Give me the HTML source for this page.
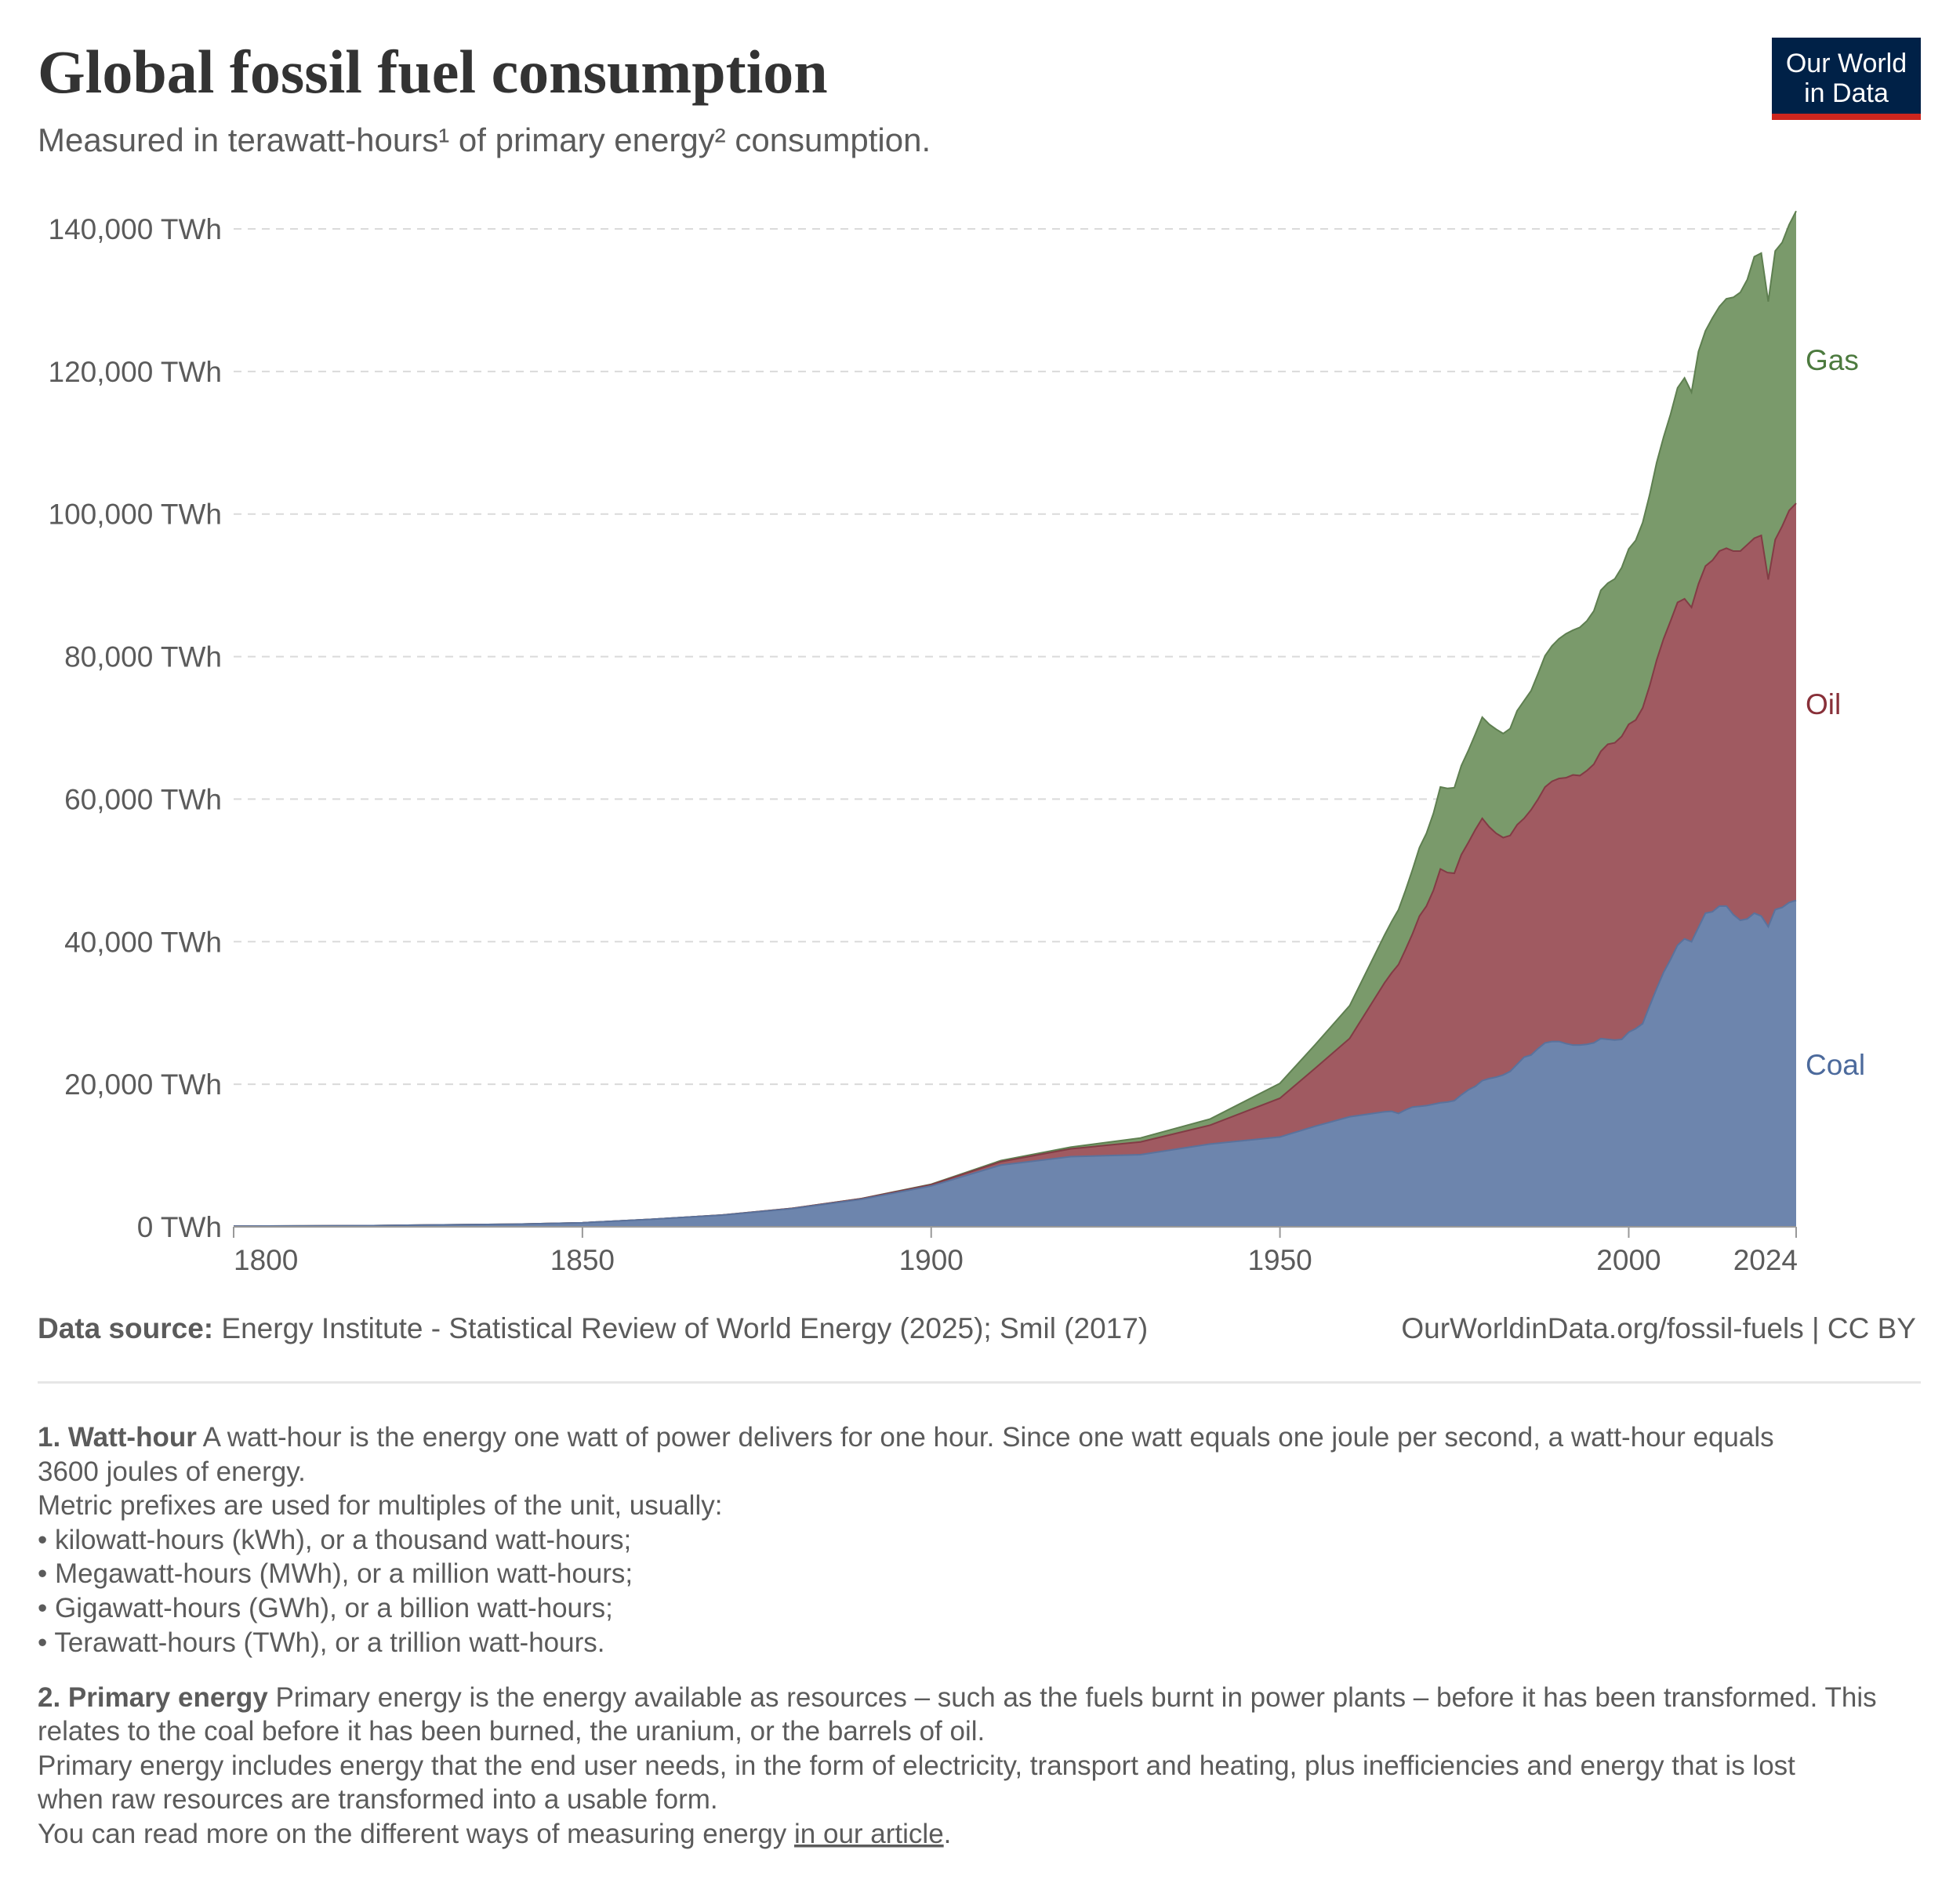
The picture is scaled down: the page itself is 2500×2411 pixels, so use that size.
<!DOCTYPE html>
<html><head><meta charset="utf-8"><style>
html,body{margin:0;padding:0;background:#fff;}
svg text{font-family:"Liberation Sans",sans-serif;}
</style></head><body>
<svg id="chart" width="2500" height="2406" viewBox="0 0 2500 2406" xmlns="http://www.w3.org/2000/svg">
<text x="48" y="118" font-size="78" font-weight="bold" fill="#333" style="font-family:'Liberation Serif',serif">Global fossil fuel consumption</text>
<text x="48" y="193" font-size="42" fill="#5b5b5b">Measured in terawatt-hours¹ of primary energy² consumption.</text>
<g>
<rect x="2260" y="48" width="190" height="105" fill="#002147"/>
<rect x="2260" y="145" width="190" height="8" fill="#ce261e"/>
<text x="2355" y="92" font-size="34" fill="#fff" text-anchor="middle">Our World</text>
<text x="2355" y="130" font-size="34" fill="#fff" text-anchor="middle">in Data</text>
</g>
<g id="grid"></g>
<g id="areas"></g>
<g id="axes"></g>
<text x="2303" y="472" font-size="37" fill="#4c7a3e">Gas</text>
<text x="2303" y="911" font-size="37" fill="#883039">Oil</text>
<text x="2303" y="1371" font-size="37" fill="#4c6a9c">Coal</text>
<text x="48" y="1707" font-size="37" fill="#5b5b5b"><tspan font-weight="bold">Data source:</tspan> Energy Institute - Statistical Review of World Energy (2025); Smil (2017)</text>
<text x="2444" y="1707" font-size="37" fill="#5b5b5b" text-anchor="end">OurWorldinData.org/fossil-fuels | CC BY</text>
<rect x="48" y="1762" width="2402" height="3" fill="#e6e6e6"/>
<g font-size="35" fill="#5b5b5b">
<text x="48" y="1845"><tspan font-weight="bold">1. Watt-hour</tspan> A watt-hour is the energy one watt of power delivers for one hour. Since one watt equals one joule per second, a watt-hour equals</text>
<text x="48" y="1889">3600 joules of energy.</text>
<text x="48" y="1932">Metric prefixes are used for multiples of the unit, usually:</text>
<text x="48" y="1976">• kilowatt-hours (kWh), or a thousand watt-hours;</text>
<text x="48" y="2019">• Megawatt-hours (MWh), or a million watt-hours;</text>
<text x="48" y="2063">• Gigawatt-hours (GWh), or a billion watt-hours;</text>
<text x="48" y="2107">• Terawatt-hours (TWh), or a trillion watt-hours.</text>
<text x="48" y="2177"><tspan font-weight="bold">2. Primary energy</tspan> Primary energy is the energy available as resources – such as the fuels burnt in power plants – before it has been transformed. This</text>
<text x="48" y="2220">relates to the coal before it has been burned, the uranium, or the barrels of oil.</text>
<text x="48" y="2264">Primary energy includes energy that the end user needs, in the form of electricity, transport and heating, plus inefficiencies and energy that is lost</text>
<text x="48" y="2307">when raw resources are transformed into a usable form.</text>
<text x="48" y="2351">You can read more on the different ways of measuring energy <tspan text-decoration="underline">in our article</tspan>.</text>
</g>
</svg>
<script>
const years=[1800,1810,1820,1830,1840,1850,1860,1870,1880,1890,1900,1910,1920,1930,1940,1950,1955,1960,1965,1966,1967,1968,1969,1970,1971,1972,1973,1974,1975,1976,1977,1978,1979,1980,1981,1982,1983,1984,1985,1986,1987,1988,1989,1990,1991,1992,1993,1994,1995,1996,1997,1998,1999,2000,2001,2002,2003,2004,2005,2006,2007,2008,2009,2010,2011,2012,2013,2014,2015,2016,2017,2018,2019,2020,2021,2022,2023,2024];
const coal=[100,130,160,270,360,570,1060,1640,2540,3860,5730,8660,9840,10120,11620,12600,14100,15440,16140,16200,15900,16400,16800,16900,17000,17200,17400,17500,17700,18500,19200,19700,20500,20800,21000,21300,21800,22800,23800,24100,25000,25800,26000,26000,25700,25500,25500,25600,25800,26400,26300,26200,26300,27300,27800,28500,31000,33400,35700,37500,39500,40400,40000,42000,44000,44200,45000,45000,43800,43000,43200,44000,43600,42100,44500,44800,45500,45800];
const oil=[0,0,0,0,0,0,0,6,45,90,180,480,1100,1790,2640,5440,8100,11000,18100,19400,20900,22500,24300,26700,28000,30000,32800,32200,31900,33700,34700,36000,36800,35300,34200,33300,33100,33600,33500,34400,35000,35900,36500,36900,37300,37900,37800,38400,39100,40300,41400,41700,42500,43200,43300,44300,44900,46100,46800,47500,48100,47700,46900,48200,48700,49300,49800,50200,51000,51800,52500,52600,53400,48700,51900,53500,55000,55700];
const gas=[0,0,0,0,0,0,0,0,0,15,60,160,240,550,870,2090,3300,4600,6700,7200,7700,8300,9000,9600,10200,10800,11500,11800,12000,12500,12900,13400,14200,14400,14600,14600,15000,16000,16500,16700,17600,18400,19000,19600,20200,20300,20800,21000,21500,22600,22600,23000,23700,24600,25200,26000,26800,27700,28300,29000,30100,31000,30200,32600,33000,34000,34300,35000,35600,36300,37200,39500,39600,39000,40500,39800,40100,41000];
const yTicks=[0,20000,40000,60000,80000,100000,120000,140000];
const yTickLabels=["0 TWh","20,000 TWh","40,000 TWh","60,000 TWh","80,000 TWh","100,000 TWh","120,000 TWh","140,000 TWh"];
const xTicks=[1800,1850,1900,1950,2000,2024];

const NS="http://www.w3.org/2000/svg";
const X0=298,X1=2291,Y0=1565,Y1=292;
const xS=y=>X0+(y-1800)/(2024-1800)*(X1-X0);
const yS=v=>Y0-v/140000*(Y0-Y1);
function mk(t,a,p){const e=document.createElementNS(NS,t);for(const k in a)e.setAttribute(k,a[k]);p.appendChild(e);return e;}
const grid=document.getElementById('grid'),areas=document.getElementById('areas'),axes=document.getElementById('axes');
yTicks.forEach((v,i)=>{
  if(v>0){const l=mk('line',{x1:X0,x2:X1,y1:yS(v),y2:yS(v),stroke:'#dadada','stroke-width':2,'stroke-dasharray':'10,8'},grid);
  
  }
  const t=mk('text',{x:283,y:yS(v)+13,'font-size':37,fill:'#5b5b5b','text-anchor':'end'},axes);
  t.textContent=yTickLabels[i];
  
  
});
const top1=coal.map((c,i)=>c+oil[i]);
const top2=top1.map((c,i)=>c+gas[i]);
const base=coal.map(()=>0);
function area(lo,hi,fill,stroke,name){
  let d='M'+years.map((y,i)=>xS(y)+','+yS(hi[i])).join('L');
  for(let i=years.length-1;i>=0;i--)d+='L'+xS(years[i])+','+yS(lo[i]);
  d+='Z';
  const p=mk('path',{d:d,fill:fill},areas);
  
  
  const l=mk('path',{d:'M'+years.map((y,i)=>xS(y)+','+yS(hi[i])).join('L'),fill:'none',stroke:stroke,'stroke-width':2},areas);
  
  
}
area(top1,top2,'#7a9a6b','#5e7f50','gas-area');
area(coal,top1,'#a05a61','#823c45','oil-area');
area(base,coal,'#6d85ad','#5a729c','coal-area');
const ax=mk('line',{x1:X0,x2:X1,y1:Y0,y2:Y0,stroke:'#999','stroke-width':2},axes);


xTicks.forEach(y=>{
  const tk=mk('line',{x1:xS(y),x2:xS(y),y1:Y0,y2:Y0+14,stroke:'#999','stroke-width':2},axes);
  
  
  let anchor='middle',x=xS(y);
  if(y===1800){anchor='start';x=X0;}
  if(y===2024){anchor='end';x=X1+2;}
  const t=mk('text',{x:x,y:1620,'font-size':37,fill:'#5b5b5b','text-anchor':anchor},axes);
  t.textContent=y;
  
  
});
</script>
</body></html>
